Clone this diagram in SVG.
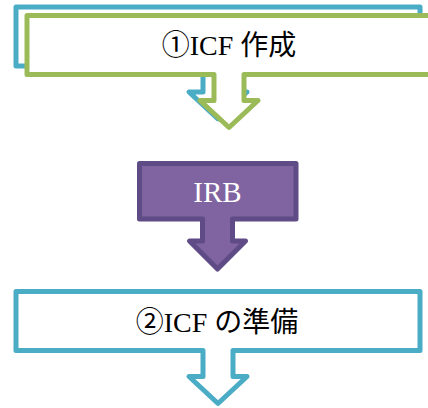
<svg xmlns="http://www.w3.org/2000/svg" width="428" height="408" viewBox="0 0 428 408">
  <style>
    .callout { stroke-width: 5; stroke-linejoin: round; }
    .blue { fill: #ffffff; stroke: #4bacc6; }
    .green { fill: #ffffff; stroke: #9bbb59; }
    .purple { fill: #8064a2; stroke: #5f4b85; }
    .label { font-family: "Liberation Serif", "Noto Sans CJK JP", serif; font-size: 28px; text-anchor: middle; fill: #000000; }
    .label-light { fill: #ffffff; font-size: 29px; }
  </style>
  <defs>
    <!-- down-arrow callout: box 404x59 with a stem and head below, centred at x=0 -->
    <path id="downCallout" d="M-202,0 H202 V59 H15 V85 H29 L0,112 L-29,85 H-15 V59 H-202 Z"/>
  </defs>

  <g id="node-icf-draft-back">
    <use href="#downCallout" class="callout blue" transform="translate(218,7)"/>
  </g>

  <g id="node-icf-draft">
    <use href="#downCallout" class="callout green" transform="translate(229,15.5)"/>
    <text class="label" x="229" y="55">①ICF 作成</text>
  </g>

  <g id="node-irb">
    <path class="callout purple" d="M139.5,163.5 H296 V219 H232.5 V241 H245.5 L217.5,269 L189.5,241 H202.5 V219 H139.5 Z"/>
    <text class="label label-light" x="217.5" y="202">IRB</text>
  </g>

  <g id="node-icf-prep">
    <use href="#downCallout" class="callout blue" transform="translate(218,291.5)"/>
    <text class="label" x="217" y="332">②ICF の準備</text>
  </g>

  <g id="connectors"></g>
</svg>
